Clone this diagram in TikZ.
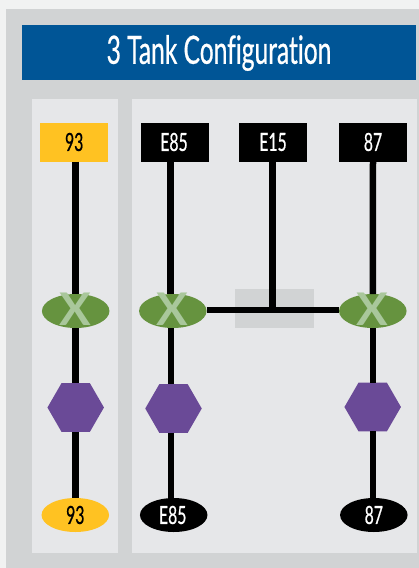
\documentclass[tikz,border=0pt]{standalone}
\usepackage{fontspec}
\setmainfont[FakeStretch=0.63,Ligatures=NoCommon,FakeBold=0.6]{Lato}
\newfontfamily\markfont[FakeStretch=1.05]{Lato Bold}
\usetikzlibrary{shapes.geometric}
\definecolor{pagebg}{HTML}{F1F2F2}
\definecolor{outerp}{HTML}{D1D3D4}
\definecolor{innerp}{HTML}{E6E7E9}
\definecolor{headblue}{HTML}{005596}
\definecolor{fuelyellow}{HTML}{FFC222}
\definecolor{valvegreen}{HTML}{66933F}
\definecolor{valvex}{HTML}{A9C79B}
\definecolor{pumppurple}{HTML}{6A4A97}
\tikzset{
  tankbox/.style={rectangle,minimum width=68pt,minimum height=39pt,inner sep=0pt,outer sep=0pt,font=\fontsize{25}{25}\selectfont},
  blacktank/.style={tankbox,fill=black,text=white},
  yellowtank/.style={tankbox,fill=fuelyellow,text=black},
  valve/.style={ellipse,fill=valvegreen,minimum width=67.5pt,minimum height=34pt,inner sep=0pt,outer sep=0pt},
  pump/.style={regular polygon,regular polygon sides=6,minimum size=56.5pt,fill=pumppurple,inner sep=0pt,outer sep=0pt},
  nozzle/.style={ellipse,minimum width=67.5pt,minimum height=34pt,inner sep=0pt,outer sep=0pt,font=\fontsize{25}{25}\selectfont},
  blacknozzle/.style={nozzle,fill=black,text=white},
  yellownozzle/.style={nozzle,fill=fuelyellow,text=black},
  pipe/.style={line width=6.5pt,draw=black},
  title/.style={text=white,font=\fontsize{39}{39}\selectfont,inner sep=0pt},
  valvemark/.style={text=valvex,font=\fontsize{45}{45}\markfont,inner sep=0pt}
}
\begin{document}
\begin{tikzpicture}[x=1pt,y=-1pt]
\useasboundingbox (0,0) rectangle (419,568);
\fill[pagebg] (0,0) rectangle (419,568);
\fill[outerp] (6,9) rectangle (419,568);
\fill[headblue] (21.5,25) rectangle (416,80);
\fill[innerp] (32,99) rectangle (118,552.5);
\fill[innerp] (132,99) rectangle (417,552.5);
\fill[outerp] (235,288.5) rectangle (313.5,328);
\node[title] (head) at (219,53) {3 Tank Configuration};
% tanks
\node[yellowtank] (t93) at (74.2,142) {93};
\node[blacktank] (tE85) at (175,142) {\hspace{-2pt}E85};
\node[blacktank] (tE15) at (273,142) {E15};
\node[blacktank] (t87) at (373,142) {87};
% valves
\node[valve] (v1) at (75.7,311) {};
\node[valve] (v2) at (172.8,311) {};
\node[valve] (v3) at (372.8,311) {};
% pumps
\node[pump] (p1) at (75.7,407.5) {};
\node[pump] (p2) at (173.5,408.5) {};
\node[pump] (p3) at (372.7,407) {};
% nozzles
\node[yellownozzle] (n1) at (75.3,515) {93};
\node[blacknozzle] (n2) at (173.7,515) {\hspace{-2pt}E85};
\node[blacknozzle] (n3) at (373.8,515) {87};
\coordinate (junction) at (272.5,310);
% connectors
\draw[pipe,line width=7pt] ([xshift=1.1pt]t93.south) -- ([xshift=-.4pt]v1.north);
\draw[pipe] ([xshift=-.4pt]v1.south) -- ([xshift=-.4pt]p1.north);
\draw[pipe] ([xshift=-.4pt]p1.south) -- (n1.north);
\draw[pipe] ([xshift=-4.5pt]tE85.south) -- ([xshift=-2.3pt]v2.north);
\draw[pipe,line width=6pt] ([xshift=-2.3pt]v2.south) -- ([xshift=-3pt]p2.north);
\draw[pipe,line width=6pt] ([xshift=-3pt]p2.south) -- ([xshift=-3.2pt]n2.north);
\draw[pipe] (tE15.south -| junction) -- (junction);
\draw[pipe] (t87.south) -- (v3.north);
\draw[pipe] (v3.south) -- (v3.south |- p3.north);
\draw[pipe] (v3.south |- p3.south) -- (v3.south |- n3.north);
\draw[pipe,line width=6pt] (v2.east |- junction) -- (v3.west |- junction);
% valve marks
\node[valvemark] (x1) at ([yshift=1.5pt]v1.center) {X};
\node[valvemark] (x2) at ([yshift=1.5pt]v2.center) {X};
\node[valvemark] (x3) at ([yshift=1.5pt]v3.center) {X};
\end{tikzpicture}
\end{document}
